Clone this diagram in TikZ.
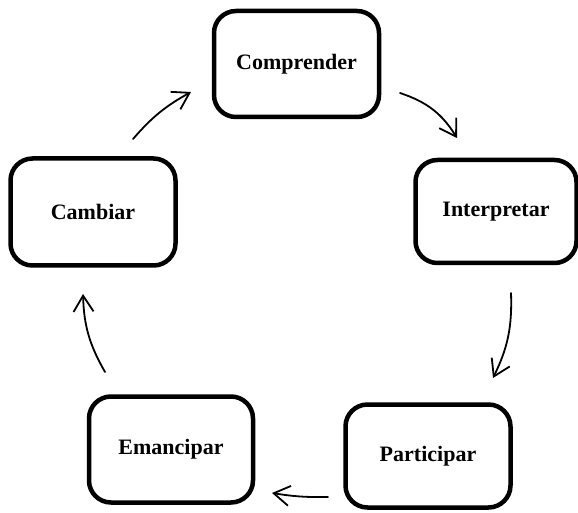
\documentclass[tikz,border=0pt]{standalone}
\usepackage{fontspec}
\setmainfont{Liberation Serif}
\usetikzlibrary{arrows.meta}
\begin{document}
\begin{tikzpicture}[x=1pt,y=1pt,
  stage/.style={draw=black, line width=4.5pt, rounded corners=22pt, fill=white,
    inner sep=0pt, text=black, font=\fontsize{22}{26}\selectfont\bfseries},
  flow/.style={line width=1.8pt, line cap=round,
    -{Straight Barb[length=16pt,width=20pt,line width=1.8pt]}}
]
\useasboundingbox (0,0) rectangle (578,512);

% process stages
\node[stage, minimum width=165pt, minimum height=106pt] (comp)  at (296.5,448) {Comprender};
\node[stage, minimum width=161pt, minimum height=103pt] (inter) at (496,300.5) {Interpretar};
\node[stage, minimum width=165pt, minimum height=103pt] (part)  at (428,56)    {Participar};
\node[stage, minimum width=164pt, minimum height=106pt] (eman)  at (171,62.5)  {Emancipar};
\node[stage, minimum width=165pt, minimum height=107pt] (camb)  at (93,300)    {Cambiar};

% arrow end points
\coordinate (a1s) at (133,373); \coordinate (a1e) at (191,420);
\coordinate (a2s) at (400,419); \coordinate (a2e) at (457,374);
\coordinate (a3s) at (511,219); \coordinate (a3e) at (493,134);
\coordinate (a4s) at (328,15);  \coordinate (a4e) at (272,19);
\coordinate (a5s) at (105,140); \coordinate (a5e) at (83,218);

% cycle arrows
\draw[flow] (a1s) to[bend left=10] (a1e);
\draw[flow] (a2s) to[bend left=20] (a2e);
\draw[flow] (a3s) to[bend left=14] (a3e);
\draw[flow] (a4s) to[bend left=5]  (a4e);
\draw[flow] (a5s) to[bend left=14] (a5e);
\end{tikzpicture}
\end{document}
